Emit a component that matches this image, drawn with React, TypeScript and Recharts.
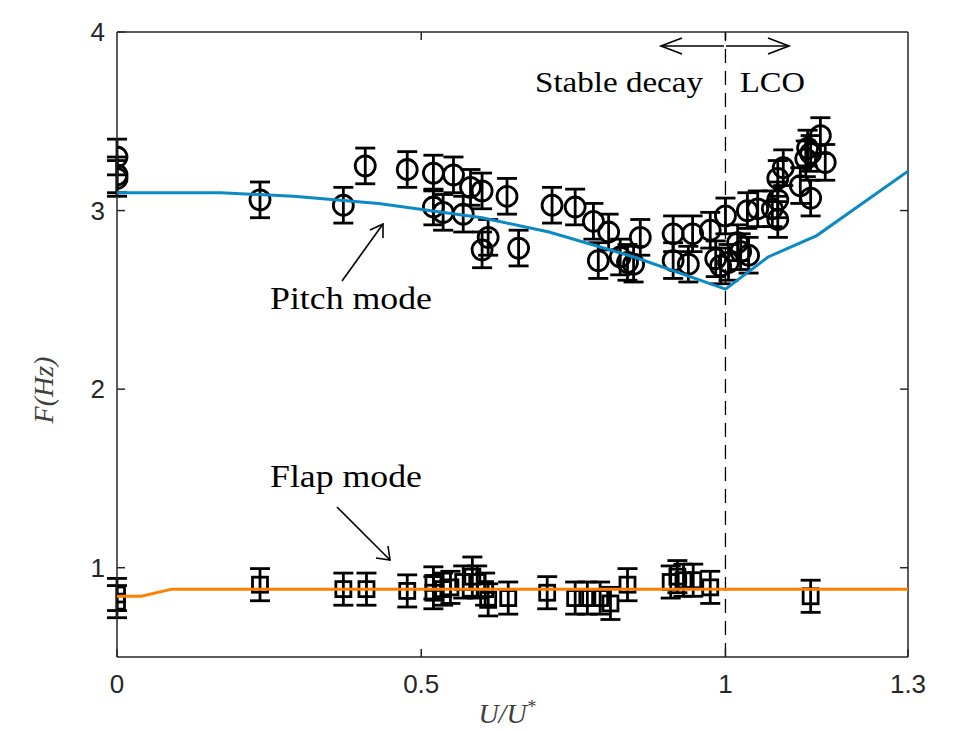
import React from 'react';
import { ScatterChart, Scatter, XAxis, YAxis, ErrorBar, ReferenceLine } from 'recharts';

// U/U* ticks and F(Hz) ticks
const xTicks = [0, 0.5, 1, 1.3];
const yTicks = [1, 2, 3, 4];

// measured pitch frequency: [U/U*, F, error]
const pitchPts = [
  [0, 3.3, 0.1], [0, 3.2, 0.1], [0, 3.18, 0.1],
  [0.235, 3.06, 0.1], [0.372, 3.03, 0.1], [0.408, 3.25, 0.1],
  [0.477, 3.23, 0.1], [0.52, 3.21, 0.1], [0.553, 3.2, 0.1],
  [0.581, 3.13, 0.1], [0.6, 3.11, 0.1], [0.641, 3.08, 0.1],
  [0.52, 3.02, 0.1], [0.536, 2.99, 0.1], [0.569, 2.98, 0.1],
  [0.6, 2.78, 0.1], [0.61, 2.85, 0.1], [0.66, 2.79, 0.1],
  [0.715, 3.03, 0.1], [0.753, 3.02, 0.1], [0.783, 2.94, 0.1],
  [0.808, 2.88, 0.1], [0.791, 2.72, 0.1], [0.827, 2.74, 0.1],
  [0.839, 2.71, 0.1], [0.849, 2.7, 0.1], [0.86, 2.85, 0.1],
  [0.914, 2.87, 0.1], [0.946, 2.87, 0.1], [0.975, 2.89, 0.1],
  [1.0, 2.97, 0.1], [0.914, 2.72, 0.1], [0.939, 2.7, 0.1],
  [0.984, 2.73, 0.1], [0.992, 2.69, 0.1], [1.005, 2.71, 0.1],
  [1.02, 2.82, 0.1], [1.025, 2.77, 0.1], [1.038, 2.75, 0.1],
  [1.036, 3.0, 0.1], [1.053, 3.01, 0.1], [1.077, 3.01, 0.1],
  [1.086, 2.95, 0.1], [1.086, 3.06, 0.1], [1.086, 3.18, 0.1],
  [1.095, 3.24, 0.1], [1.123, 3.14, 0.1], [1.132, 3.29, 0.1],
  [1.135, 3.35, 0.1], [1.14, 3.07, 0.1], [1.14, 3.32, 0.1],
  [1.156, 3.42, 0.1], [1.164, 3.27, 0.1],
];

// measured flap frequency: [U/U*, F, error]
const flapPts = [
  [0, 0.85, 0.09], [0, 0.81, 0.09], [0.235, 0.905, 0.09],
  [0.372, 0.88, 0.09], [0.41, 0.88, 0.09], [0.477, 0.87, 0.09],
  [0.52, 0.915, 0.09], [0.52, 0.86, 0.09], [0.536, 0.88, 0.09],
  [0.548, 0.89, 0.09], [0.569, 0.92, 0.09], [0.584, 0.95, 0.11],
  [0.592, 0.92, 0.09], [0.605, 0.88, 0.09], [0.61, 0.82, 0.09],
  [0.643, 0.83, 0.09], [0.707, 0.86, 0.09], [0.753, 0.83, 0.09],
  [0.773, 0.83, 0.09], [0.794, 0.83, 0.09], [0.811, 0.8, 0.09],
  [0.839, 0.905, 0.09], [0.91, 0.92, 0.09], [0.921, 0.95, 0.09],
  [0.931, 0.93, 0.09], [0.947, 0.93, 0.09], [0.975, 0.89, 0.09],
  [1.14, 0.84, 0.09],
];

// model curves
const pitchModelX = [0, 0.17, 0.29, 0.43, 0.6, 0.71, 0.85, 1.0, 1.07, 1.15, 1.3];
const pitchModelY = [3.1, 3.1, 3.08, 3.04, 2.96, 2.88, 2.74, 2.56, 2.74, 2.86, 3.22];
const flapModelX = [0, 0.04, 0.09, 1.3];
const flapModelY = [0.84, 0.84, 0.88, 0.88];

const toPts = (rows: number[][]) => rows.map(([x, y, e]) => ({ x, y, e }));
const toLine = (xs: number[], ys: number[]) => xs.map((x, i) => ({ x, y: ys[i] }));

const pitchData = toPts(pitchPts);
const flapData = toPts(flapPts);
const pitchModel = toLine(pitchModelX, pitchModelY);
const flapModel = toLine(flapModelX, flapModelY);

const axisColor = '#262626';
const tickFont = { fill: axisColor, fontSize: 26, fontFamily: 'Liberation Sans' };
const serif = 'Liberation Serif';
const frame = { stroke: axisColor, strokeWidth: 1.5 };

const CircleMark = (p: any) => (
  <circle cx={p.cx} cy={p.cy} r={10} fill="none" stroke="#000" strokeWidth={2.8} />
);
const SquareMark = (p: any) => (
  <rect x={p.cx - 7.5} y={p.cy - 7.5} width={15} height={15} fill="none" stroke="#000" strokeWidth={2.8} />
);
const NoMark = () => <g />;

export default function App() {
  return (
    <div style={{ position: 'absolute', left: 0, top: 0, width: 966, height: 731, background: '#fff' }}>
      <ScatterChart width={966} height={731} margin={{ top: 32, right: 58, left: 57, bottom: 34 }}>
        <XAxis
          dataKey="x" type="number" domain={[0, 1.3]} ticks={xTicks} height={40}
          tickSize={-8} tickMargin={26} tick={tickFont}
          axisLine={frame} tickLine={frame} allowDataOverflow
        />
        <YAxis
          dataKey="y" type="number" domain={[0.5, 4]} ticks={yTicks} width={60}
          tickSize={-8} tickMargin={20} tick={tickFont}
          axisLine={frame} tickLine={frame} allowDataOverflow
        />
        {/* box: top and right edges with inward ticks */}
        <ReferenceLine y={4} {...frame} />
        <ReferenceLine x={1.3} {...frame} />
        {xTicks.slice(1, -1).map((t) => (
          <ReferenceLine key={'tx' + t} segment={[{ x: t, y: 4 }, { x: t, y: 3.955 }]} {...frame} />
        ))}
        {yTicks.slice(0, -1).map((t) => (
          <ReferenceLine key={'ty' + t} segment={[{ x: 1.3, y: t }, { x: 1.287, y: t }]} {...frame} />
        ))}
        <ReferenceLine x={1} stroke="#000" strokeWidth={1.3} strokeDasharray="14 8" />
        <Scatter data={pitchData} shape={CircleMark} isAnimationActive={false}>
          <ErrorBar dataKey="e" direction="y" width={10} stroke="#000" strokeWidth={2.8} />
        </Scatter>
        <Scatter data={flapData} shape={SquareMark} isAnimationActive={false}>
          <ErrorBar dataKey="e" direction="y" width={10} stroke="#000" strokeWidth={2.8} />
        </Scatter>
        <Scatter data={pitchModel} shape={NoMark} line={{ stroke: '#0b8ac4', strokeWidth: 3 }} isAnimationActive={false} />
        <Scatter data={flapModel} shape={NoMark} line={{ stroke: '#ff8000', strokeWidth: 3 }} isAnimationActive={false} />
      </ScatterChart>

      <svg width={966} height={731} style={{ position: 'absolute', left: 0, top: 0, pointerEvents: 'none' }}>
        <g stroke="#000" strokeWidth={1.6} fill="none">
          <line x1={724} y1={46} x2={661} y2={46} />
          <polyline points="682,38 661,46 682,54" />
          <line x1={726} y1={46} x2={789} y2={46} />
          <polyline points="768,38 789,46 768,54" />
          <line x1={342} y1={281} x2={383} y2={224} />
          <polyline points="370,230 383,224 383,238" />
          <line x1={337} y1={507} x2={390} y2={560} />
          <polyline points="376,558 390,560 388,546" />
        </g>
        <g fontFamily={serif} fontSize={30} fill="#000">
          <text x={535} y={92} textLength={168} lengthAdjust="spacingAndGlyphs">Stable decay</text>
          <text x={740} y={92} textLength={65} lengthAdjust="spacingAndGlyphs">LCO</text>
          <text x={270} y={309} fontSize={31} textLength={162} lengthAdjust="spacingAndGlyphs">Pitch mode</text>
          <text x={270} y={487} fontSize={31} textLength={152} lengthAdjust="spacingAndGlyphs">Flap mode</text>
        </g>
        <text x={507} y={723} textAnchor="middle" fontFamily={serif} fontStyle="italic" fontSize={28} fill="#404040">
          U/U<tspan dy={-10} fontSize={18}>*</tspan>
        </text>
        <text
          transform="translate(53,390) rotate(-90)" textAnchor="middle"
          fontFamily={serif} fontStyle="italic" fontSize={28} fill="#404040"
        >
          F(Hz)
        </text>
      </svg>
    </div>
  );
}
